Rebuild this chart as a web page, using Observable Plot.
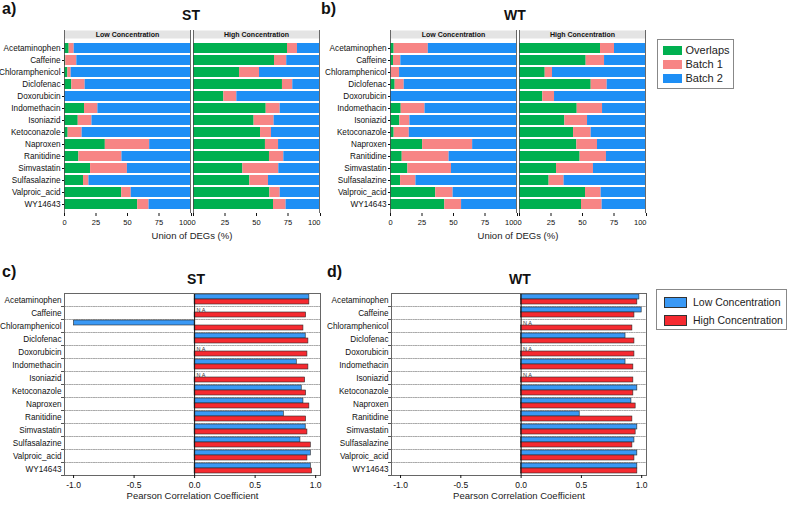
<!DOCTYPE html>
<html><head><meta charset="utf-8">
<script src="https://cdn.jsdelivr.net/npm/d3@7"></script>
<script src="https://cdn.jsdelivr.net/npm/@observablehq/plot@0.6"></script>
<style>
body{margin:0;background:#fff;font-family:"Liberation Sans",Arial,sans-serif;color:#111;}
#root{position:relative;width:787px;height:505px;overflow:hidden;}
.abs{position:absolute;}
.abs svg{overflow:visible;}
.plabel{position:absolute;font-weight:bold;font-size:16px;line-height:16px;}
.ptitle{position:absolute;font-weight:bold;font-size:14px;line-height:14px;transform:translateX(-50%);}
.legend{position:absolute;border:1px solid #888;background:#fff;box-sizing:border-box;}
.lrow{position:absolute;display:flex;align-items:center;white-space:nowrap;}
.sw{display:inline-block;box-sizing:border-box;}
</style></head><body><div id="root"></div>
<script>
const drugs = ["Acetaminophen","Caffeine","Chloramphenicol","Diclofenac","Doxorubicin","Indomethacin","Isoniazid","Ketoconazole","Naproxen","Ranitidine","Simvastatin","Sulfasalazine","Valproic_acid","WY14643"];
const concLabels = ["Low Concentration","High Concentration"];
const comps = ["Overlaps","Batch 1","Batch 2"];
const compColors = ["#00b050","#f78585","#1e8ff5"];
const corrColors = ["#3a99f5","#f52a30"];

// Union of DEGs (%) - ST
const stLowOverlaps = [3.7, 1.0, 2.7, 5.8, 0, 15.9, 10.9, 2.9, 32.4, 11.4, 20.7, 15.1, 45.4, 58.1];
const stLowBatch1   = [4.0, 8.8, 2.6, 10.6, 0, 10.6, 10.9, 11.1, 35.2, 34.2, 29.2, 4.3, 7.6, 9.0];
const stLowBatch2   = [92.3, 90.2, 94.7, 83.6, 100, 73.5, 78.2, 86.0, 32.4, 54.4, 50.1, 80.6, 47.0, 32.9];
const stHighOverlaps = [74.6, 64.3, 36.5, 70.6, 24.1, 57.7, 48.1, 53.2, 57.1, 60.3, 39.2, 44.7, 60.6, 63.5];
const stHighBatch1   = [7.9, 9.7, 15.9, 8.2, 10.3, 11.1, 15.9, 8.7, 10.4, 11.4, 28.5, 14.8, 8.2, 10.0];
const stHighBatch2   = [17.5, 26.0, 47.6, 21.2, 65.6, 31.2, 36.0, 38.1, 32.5, 28.3, 32.3, 40.5, 31.2, 26.5];
// Union of DEGs (%) - WT
const wtLowOverlaps = [2.9, 2.4, 0.5, 3.7, 0, 8.5, 7.4, 2.9, 25.5, 9.3, 13.8, 8.0, 35.9, 43.1];
const wtLowBatch1   = [27.1, 5.8, 6.7, 7.2, 0, 18.9, 8.0, 12.0, 39.7, 37.2, 34.6, 12.2, 13.8, 13.3];
const wtLowBatch2   = [70.0, 91.8, 92.8, 89.1, 100, 72.6, 84.6, 85.1, 34.8, 53.5, 51.6, 79.8, 50.3, 43.6];
const wtHighOverlaps = [64.3, 52.9, 20.4, 56.9, 18.5, 45.8, 36.0, 42.9, 45.5, 48.1, 29.4, 23.5, 52.4, 49.2];
const wtHighBatch1   = [11.1, 14.6, 5.8, 12.7, 9.3, 20.1, 18.0, 14.0, 16.4, 20.9, 29.3, 11.9, 12.4, 16.4];
const wtHighBatch2   = [24.6, 32.5, 73.8, 30.4, 72.2, 34.1, 46.0, 43.1, 38.1, 31.0, 41.3, 64.6, 35.2, 34.4];
const unionTicks = [0, 25, 50, 75];
const unionEndTick = [100];

// Pearson correlation (null = N A)
const stLowCorr  = [0.948, null, -0.997, 0.918, null, 0.844, null, 0.885, 0.899, 0.737, 0.918, 0.874, 0.960, 0.960];
const stHighCorr = [0.948, 0.921, 0.899, 0.940, 0.932, 0.940, 0.913, 0.921, 0.948, 0.921, 0.932, 0.960, 0.932, 0.970];
const wtLowCorr  = [0.981, 1.000, null, 0.866, null, 0.866, null, 0.964, 0.915, 0.486, 0.964, 0.940, 0.964, 0.964];
const wtHighCorr = [0.964, 0.940, 0.923, 0.940, 0.940, 0.931, 0.931, 0.931, 0.950, 0.923, 0.950, 0.923, 0.940, 0.964];
const corrTicks = [-1, -0.5, 0, 0.5, 1];

const FONT = "'Liberation Sans', Arial, sans-serif";
const root = document.getElementById("root");

function place(el, left, top) {
  const w = document.createElement("div");
  w.className = "abs"; w.style.left = left + "px"; w.style.top = top + "px";
  w.appendChild(el); root.appendChild(w);
}
function text(cls, str, left, top) {
  const d = document.createElement("div");
  d.className = cls; d.textContent = str; d.style.left = left + "px"; d.style.top = top + "px";
  root.appendChild(d);
}

function barPanel(sets, mL, mR) {
  const rows = [];
  sets.forEach(([conc, ov, b1, b2]) => {
    drugs.forEach((d, i) => {
      rows.push({drug: d, conc, comp: comps[0], value: ov[i]});
      rows.push({drug: d, conc, comp: comps[1], value: b1[i]});
      rows.push({drug: d, conc, comp: comps[2], value: b2[i]});
    });
  });
  const H = 245, mT = 38, mB = 32;
  return Plot.plot({
    width: 330, height: H, marginLeft: mL, marginRight: mR, marginTop: mT, marginBottom: mB,
    style: {fontFamily: FONT, background: "transparent", color: "#111", overflow: "visible"},
    fx: {domain: concLabels, paddingInner: 0.024, paddingOuter: 0, label: null},
    x: {domain: [0, 100]},
    y: {domain: drugs, padding: 0.2},
    color: {domain: comps, range: compColors},
    marks: [
      Plot.frame({fill: "#e4e4e4", insetTop: -8, insetBottom: H - mT - mB}),
      Plot.barX(rows, {fx: "conc", y: "drug", x: "value", fill: "comp"}),
      Plot.ruleX([0, 100], {stroke: "#444", strokeWidth: 0.8, insetTop: -8}),
      Plot.axisFx({anchor: "top", tickSize: 0, tickPadding: 1.5, fontSize: 7, fontWeight: "bold", label: null}),
      Plot.axisY({tickSize: 2, tickPadding: 2, fontSize: 8.2, label: null}),
      Plot.axisX(unionTicks, {tickSize: 3, tickPadding: 3, fontSize: 7.5, label: null}),
      Plot.axisX(unionEndTick, {tickSize: 3, tickPadding: 3, fontSize: 7.5, textAnchor: "end", dx: 1, label: null}),
      Plot.text(["Union of DEGs (%)"], {facet: "super", frameAnchor: "bottom", dy: 25, fontSize: 9.5, fill: "#222"})
    ]
  });
}

function corrPanel(low, high, mL, mR) {
  const rows = [];
  drugs.forEach((d, i) => {
    rows.push({drug: d, conc: concLabels[0], value: low[i]});
    rows.push({drug: d, conc: concLabels[1], value: high[i]});
  });
  const W = 330, innerW = W - mL - mR;
  return Plot.plot({
    width: W, height: 245, marginLeft: mL, marginRight: mR, marginTop: 31, marginBottom: 28,
    style: {fontFamily: FONT, background: "transparent", color: "#111", overflow: "visible"},
    fy: {domain: drugs, padding: 0, label: null},
    y: {domain: concLabels, paddingInner: 0.1, paddingOuter: 0.3, align: 0.35, axis: null},
    x: {domain: [-1.075, 1.04]},
    color: {domain: concLabels, range: corrColors},
    marks: [
      Plot.frame({anchor: "bottom", stroke: "#aaa", strokeDasharray: "1.2,1.2"}),
      Plot.frame({anchor: "bottom", stroke: "#555", insetLeft: -3, insetRight: innerW}),
      Plot.barX(rows.filter(d => d.value != null), {fy: "drug", y: "conc", x1: 0, x2: "value", fill: "conc", stroke: "#2a2a2a", strokeWidth: 0.6}),
      Plot.ruleX([0], {stroke: "#111", strokeWidth: 1}),
      Plot.text(rows.filter(d => d.value == null), {fy: "drug", y: "conc", x: 0, text: () => "N A", textAnchor: "start", dx: 2, fontSize: 5.5, fill: "#333"}),
      Plot.frame({stroke: "#666", facet: "super"}),
      Plot.axisFy({anchor: "left", tickSize: 0, tickPadding: 3, fontSize: 8.2, label: null}),
      Plot.axisX({ticks: corrTicks, tickFormat: d => d.toFixed(1), tickSize: 3, tickPadding: 3, fontSize: 8.5, label: null}),
      Plot.text(["Pearson Correlation Coefficient"], {facet: "super", frameAnchor: "bottom", dy: 23, fontSize: 9.5, fill: "#222"})
    ]
  });
}

place(barPanel([[concLabels[0], stLowOverlaps, stLowBatch1, stLowBatch2], [concLabels[1], stHighOverlaps, stHighBatch1, stHighBatch2]], 64, 11), 0, 0);
place(barPanel([[concLabels[0], wtLowOverlaps, wtLowBatch1, wtLowBatch2], [concLabels[1], wtHighOverlaps, wtHighBatch1, wtHighBatch2]], 60, 15), 330, 0);
place(corrPanel(stLowCorr, stHighCorr, 64, 10), 0, 260);
place(corrPanel(wtLowCorr, wtHighCorr, 61, 14), 330, 260);

text("plabel", "a)", 2, 1);
text("plabel", "b)", 321, 1);
text("plabel", "c)", 2, 264);
text("plabel", "d)", 327, 264);
text("ptitle", "ST", 191, 8);
text("ptitle", "WT", 515, 8);
text("ptitle", "ST", 196, 272);
text("ptitle", "WT", 520, 272);

function legend(items, colors, box, sw, rowsY, textX, fontSize, stroke) {
  const L = document.createElement("div");
  L.className = "legend";
  Object.assign(L.style, {left: box[0] + "px", top: box[1] + "px", width: box[2] + "px", height: box[3] + "px"});
  items.forEach((name, i) => {
    const r = document.createElement("div");
    r.className = "lrow";
    r.style.left = sw[0] + "px"; r.style.top = (rowsY[i] - sw[2] / 2) + "px"; r.style.height = sw[2] + "px";
    const s = document.createElement("span");
    s.className = "sw";
    Object.assign(s.style, {width: sw[1] + "px", height: sw[2] + "px", background: colors[i], border: stroke ? "0.8px solid #333" : "none"});
    const t = document.createElement("span");
    t.textContent = name;
    Object.assign(t.style, {fontSize: fontSize + "px", marginLeft: textX + "px", lineHeight: sw[2] + "px", color: "#222"});
    r.appendChild(s); r.appendChild(t);
    L.appendChild(r);
  });
  root.appendChild(L);
}
legend(comps, compColors, [657, 39, 77, 50], [5, 19, 9.5], [10.3, 24.3, 38.3], 3.5, 11, false);
legend(concLabels, corrColors, [656, 289, 131, 41], [7, 23, 10.5], [12.7, 30.3], 6, 10.5, true);
</script></body></html>
